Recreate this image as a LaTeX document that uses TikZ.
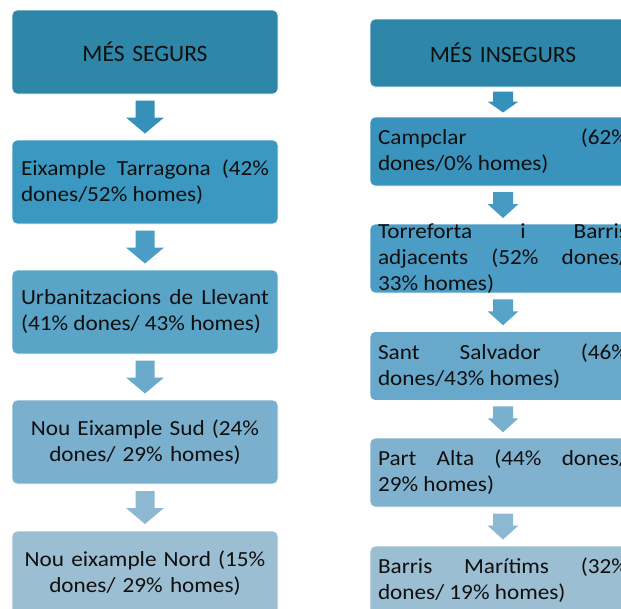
\documentclass[tikz,border=0pt]{standalone}
\usepackage{fontspec}
\setmainfont{Carlito}[FakeStretch=1.08]
\newfontfamily\hdrfont{Carlito}
\usetikzlibrary{calc}

\definecolor{hdrblue}{HTML}{2E86A8}
\definecolor{eixblue}{HTML}{3A98C1}
\definecolor{urbblue}{HTML}{59A4C7}
\definecolor{nousblue}{HTML}{7AB0CD}
\definecolor{nounblue}{HTML}{9BBED3}
\definecolor{campblue}{HTML}{3A93BD}
\definecolor{torrblue}{HTML}{4B9DC5}
\definecolor{salvblue}{HTML}{67A8CB}
\definecolor{altablue}{HTML}{80B2CF}
\definecolor{maritblue}{HTML}{9BBED3}
\definecolor{arrA}{HTML}{3590BA}
\definecolor{arrB}{HTML}{4A9DC5}
\definecolor{arrC}{HTML}{6AAACB}
\definecolor{arrD}{HTML}{8DB8D1}

\tikzset{
  txt/.style={text=black!94, font=\fontsize{21.5}{26}\selectfont},
  box/.style={txt, draw=white, line width=0.8pt, rounded corners=5pt},
  boxL/.style={box, minimum height=84pt, text width=248pt, inner xsep=9pt},
  boxR/.style={box, minimum height=69pt, text width=250pt, inner xsep=8pt, align=justify},
  hdr/.style={fill=hdrblue, align=center, font=\hdrfont\fontsize{23.5}{28}\selectfont},
  pics/downarr/.style args={#1/#2/#3/#4}{code={
    \fill[pic actions] (-#4,#1/2) -- (#4,#1/2) -- (#4,-#1/2+#2) -- (#3,-#1/2+#2)
      -- (0,-#1/2) -- (-#3,-#1/2+#2) -- (-#4,-#1/2+#2) -- cycle;
  }}
}

\begin{document}
\begin{tikzpicture}[x=1pt, y=1pt]
  \useasboundingbox (0,0) rectangle (621,-608);
  \clip (0,0) rectangle (621,-608);

  % columna esquerra: més segurs
  \node[boxL, hdr] (hdrL) at (145,-52) {MÉS SEGURS};
  \node[boxL, fill=eixblue, align=justify] (eixT) at (145,-182)
    {Eixample Tarragona (42\%\linebreak dones/52\% homes)};
  \node[boxL, fill=urbblue, align=justify] (urbL) at (145,-312)
    {Urbanitzacions de Llevant\linebreak (41\% dones/ 43\% homes)};
  \node[boxL, fill=nousblue, align=center] (nouS) at (145,-442)
    {Nou Eixample Sud (24\%\\ dones/ 29\% homes)};
  \node[boxL, fill=nounblue, align=center] (nouN) at (145,-573)
    {Nou eixample Nord (15\%\\ dones/ 29\% homes)};

  % fletxes esquerra
  \pic[fill=arrA] at ($(hdrL.south)!0.5!(eixT.north)$) {downarr={33/16/19/9.5}};
  \pic[fill=arrB] at ($(eixT.south)!0.5!(urbL.north)$) {downarr={33/16/19/9.5}};
  \pic[fill=arrC] at ($(urbL.south)!0.5!(nouS.north)$) {downarr={33/16/19/9.5}};
  \pic[fill=arrD] at ($(nouS.south)!0.5!(nouN.north)$) {downarr={33/16/19/9.5}};

  % columna dreta: més insegurs
  \node[boxR, hdr, minimum height=68pt] (hdrR) at (503,-53) {MÉS INSEGURS};
  \node[boxR, fill=campblue] (camp) at (503,-151.5)
    {Campclar (62\%\linebreak dones/0\% homes)};
  \node[boxR, fill=torrblue] (torr) at (503,-258.5) {};
  \node[txt, text width=250pt, align=justify, inner sep=0pt] (torrT) at (torr)
    {Torreforta i Barris\linebreak adjacents (52\% dones/\linebreak 33\% homes)};
  \node[boxR, fill=salvblue] (salv) at (503,-366)
    {Sant Salvador (46\%\linebreak dones/43\% homes)};
  \node[boxR, fill=altablue] (alta) at (503,-472.5)
    {Part Alta (44\% dones/\linebreak 29\% homes)};
  \node[boxR, fill=maritblue] (mari) at (503,-580.5)
    {Barris Marítims (32\%\linebreak dones/ 19\% homes)};

  % fletxes dreta
  \pic[fill=arrA] at ($(hdrR.south)!0.5!(camp.north)$) {downarr={21/11/15.5/10}};
  \pic[fill=arrB!85!arrA] at ($(camp.south)!0.5!(torr.north)$) {downarr={26/14/15.5/10}};
  \pic[fill=arrB!60!arrC] at ($(torr.south)!0.5!(salv.north)$) {downarr={26/14/15.5/10}};
  \pic[fill=arrC!60!arrD] at ($(salv.south)!0.5!(alta.north)$) {downarr={26/14/15.5/10}};
  \pic[fill=arrD] at ($(alta.south)!0.5!(mari.north)$) {downarr={26/14/15.5/10}};
\end{tikzpicture}
\end{document}
